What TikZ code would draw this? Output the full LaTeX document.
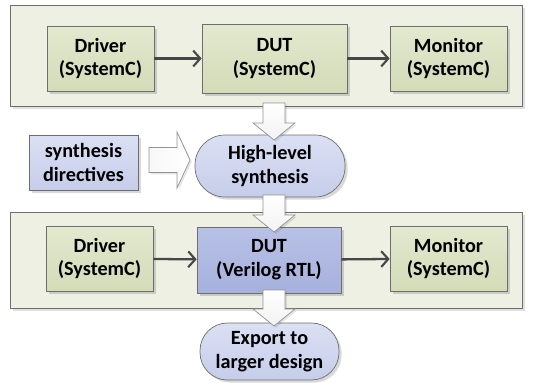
\documentclass[tikz,border=0pt]{standalone}
\usepackage{fontspec}
\setmainfont{Carlito}
\usetikzlibrary{arrows.meta,calc,shadows}

\definecolor{framefill}{HTML}{EEF0E3}
\definecolor{greentop}{HTML}{E3E9CF}
\definecolor{greenbot}{HTML}{D3DBB8}
\definecolor{bluetop}{HTML}{DBE0F3}
\definecolor{bluebot}{HTML}{C6CDEA}
\definecolor{rtltop}{HTML}{B8C1E6}
\definecolor{rtlbot}{HTML}{A6B1DC}
\definecolor{edgegray}{HTML}{6E6E6E}

% hollow block arrows, from a start point to a tip
\newcommand{\fatdown}[2]{%
  \draw[fat arrow] let \p1=(#1), \p2=(#2) in
    (\x1-0.22cm,\y1) -- (\x1+0.22cm,\y1) -- (\x1+0.22cm,\y2+0.34cm) -- (\x1+0.42cm,\y2+0.34cm)
    -- (\x1,\y2) -- (\x1-0.42cm,\y2+0.34cm) -- (\x1-0.22cm,\y2+0.34cm) -- cycle;}
\newcommand{\fatright}[2]{%
  \draw[fat arrow,left color=gray!6,right color=white] let \p1=(#1), \p2=(#2) in
    (\x1,\y1+0.25cm) -- (\x2-0.26cm,\y1+0.25cm) -- (\x2-0.26cm,\y1+0.56cm)
    -- (\x2,\y1) -- (\x2-0.26cm,\y1-0.56cm) -- (\x2-0.26cm,\y1-0.25cm) -- (\x1,\y1-0.25cm) -- cycle;}

\begin{document}
\begin{tikzpicture}[
  x=0.02cm, y=-0.02cm,
  >={Straight Barb[length=4pt,width=9pt,line width=1.2pt]},
  every node/.style={font=\fontsize{11.5}{13.5}\selectfont\bfseries, align=center},
  frame node/.style={rectangle,draw=edgegray,fill=framefill,minimum width=10.24cm,
    drop shadow={shadow xshift=1.5pt,shadow yshift=-1.5pt,fill=black,opacity=0.12}},
  block node/.style={rectangle,draw=edgegray,top color=greentop,bottom color=greenbot,
    minimum height=1.30cm,
    drop shadow={shadow xshift=1.5pt,shadow yshift=-1.5pt,fill=black,opacity=0.15}},
  rtl node/.style={block node,top color=rtltop,bottom color=rtlbot},
  tool node/.style={rectangle,draw=edgegray,top color=bluetop,bottom color=bluebot,
    drop shadow={shadow xshift=1.5pt,shadow yshift=-1.5pt,fill=black,opacity=0.15}},
  fat arrow/.style={draw=gray!85,top color=white,bottom color=gray!10,line join=miter,
    drop shadow={shadow xshift=1pt,shadow yshift=-1pt,fill=black,opacity=0.1}},
  flow/.style={->,line width=1.3pt,draw=black!72},
]
\useasboundingbox (0,0) rectangle (534,382);

% upper testbench (SystemC model)
\node[frame node,minimum height=2.02cm] (tbtop) at (266,55.5) {};
\node[block node,minimum width=2.14cm] (drv1) at (100.5,58.5) {Driver\\(SystemC)};
\node[block node,minimum width=2.90cm,minimum height=1.38cm] (dut1) at (274.5,58.5) {DUT\\(SystemC)};
\node[block node,minimum width=2.34cm] (mon1) at (448.5,58.5) {Monitor\\(SystemC)};
\draw[flow] (drv1) -- (dut1);
\draw[flow] (dut1) -- (mon1);

% synthesis step
\node[tool node,minimum width=2.18cm,minimum height=1.10cm] (dir) at (83.5,162.5) {synthesis\\directives};
\node[tool node,rounded corners=0.6cm,minimum width=3.0cm,minimum height=1.24cm] (hls) at (270,166) {High-level\\synthesis};

% lower testbench (RTL model)
\node[frame node,minimum height=1.92cm] (tbbot) at (266,260) {};
\node[block node,minimum width=2.14cm] (drv2) at (99.5,258.5) {Driver\\(SystemC)};
\node[rtl node,minimum width=2.88cm,minimum height=1.32cm] (dut2) at (269,260) {DUT\\(Verilog RTL)};
\node[block node,minimum width=2.34cm] (mon2) at (448.5,258.5) {Monitor\\(SystemC)};
\draw[flow] (drv2) -- (dut2);
\draw[flow] (dut2) -- (mon2);

\node[tool node,rounded corners=0.55cm,minimum width=2.78cm,minimum height=1.14cm] (exp) at (269.5,351.5) {Export to\\larger design};

% block arrows between the stages
\coordinate (a1s) at (274,103);
\coordinate (a1e) at (274,140);
\coordinate (a2s) at (274,195);
\coordinate (a2e) at (274,232);
\coordinate (a3s) at (274,290);
\coordinate (a3e) at (274,326);
\coordinate (a4s) at (149,160);
\coordinate (a4e) at (190,160);
\fatdown{a1s}{a1e}
\fatdown{a2s}{a2e}
\fatdown{a3s}{a3e}
\fatright{a4s}{a4e}
\end{tikzpicture}
\end{document}
